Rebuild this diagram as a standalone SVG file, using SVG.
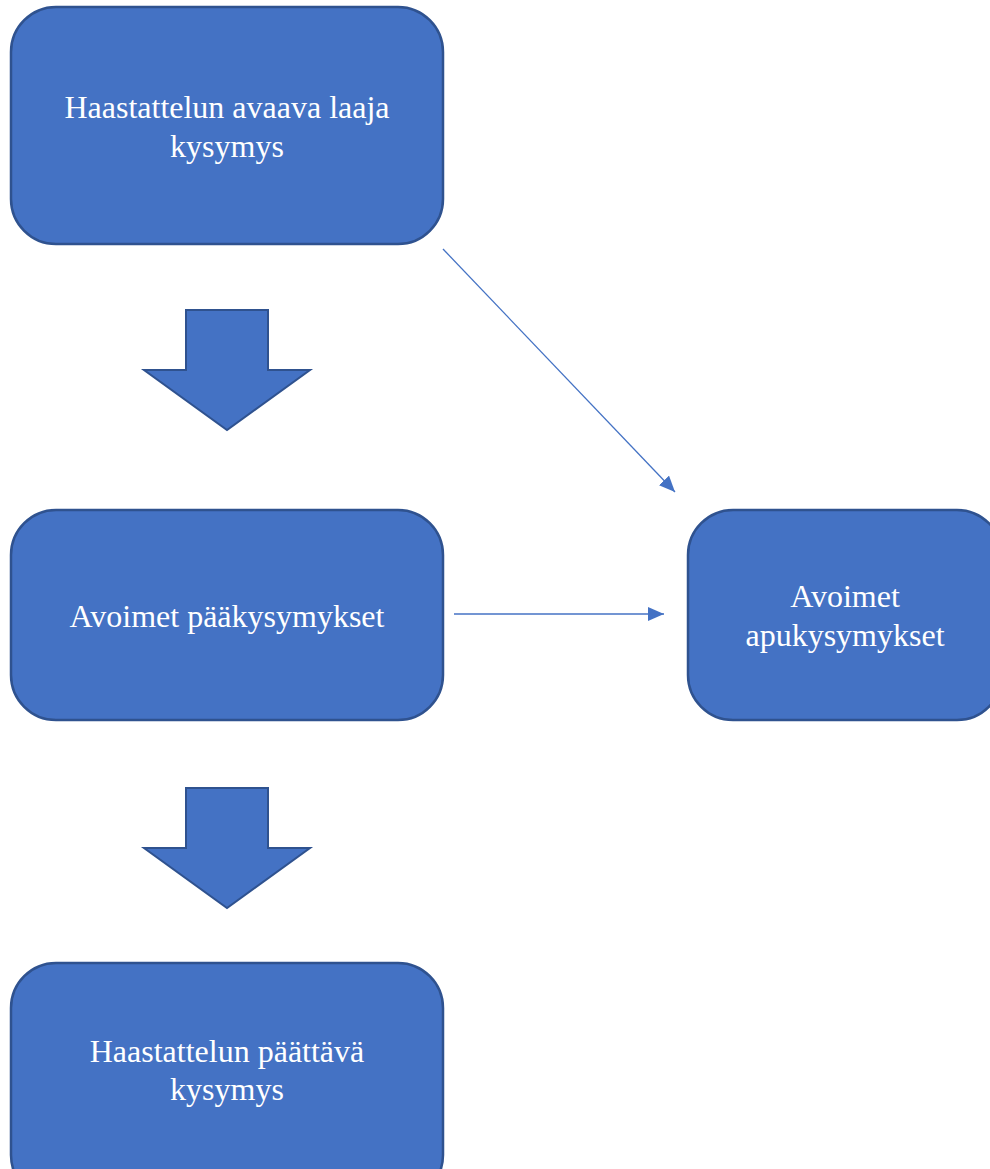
<svg xmlns="http://www.w3.org/2000/svg" width="990" height="1169" viewBox="0 0 990 1169">
<defs>
<style>
.box{fill:#4472C4;stroke:#2F528F;stroke-width:2.5}
.blk{fill:#4472C4;stroke:#2F528F;stroke-width:2}
.t{font-family:"Liberation Serif","Times New Roman",serif;font-size:32px;fill:#FFFFFF;text-anchor:middle}
.c{stroke:#4472C4;stroke-width:1.3;fill:none}
</style>
<marker id="ah" viewBox="0 0 16 14" refX="16" refY="7" markerWidth="16" markerHeight="14" markerUnits="userSpaceOnUse" orient="auto">
<path d="M0,0 L16,7 L0,14 z" fill="#4472C4"/>
</marker>
</defs>
<rect width="990" height="1169" fill="#FFFFFF"/>
<g id="n1">
<rect class="box" x="11" y="7" width="432" height="237" rx="45"/>
<text class="t" x="227" y="118">Haastattelun avaava laaja</text>
<text class="t" x="227" y="157">kysymys</text>
</g>
<g id="a1">
<path class="blk" d="M186,310 H268 V370 H310 L227,430 L144,370 H186 Z"/>
</g>
<g id="n2">
<rect class="box" x="11" y="510" width="432" height="210" rx="45"/>
<text class="t" x="227" y="627">Avoimet pääkysymykset</text>
</g>
<g id="n3">
<rect class="box" x="688" y="510" width="314" height="210" rx="45"/>
<text class="t" x="845" y="607">Avoimet</text>
<text class="t" x="845" y="646">apukysymykset</text>
</g>
<g id="a2">
<path class="blk" d="M186,788 H268 V848 H310 L227,908 L144,848 H186 Z"/>
</g>
<g id="n4">
<rect class="box" x="11" y="963" width="432" height="237" rx="45"/>
<text class="t" x="227" y="1062">Haastattelun päättävä</text>
<text class="t" x="227" y="1100">kysymys</text>
</g>
<g id="connectors">
<line class="c" x1="443" y1="249" x2="675" y2="492" marker-end="url(#ah)"/>
<line class="c" x1="454" y1="614" x2="664" y2="614" marker-end="url(#ah)"/>
</g>
</svg>
